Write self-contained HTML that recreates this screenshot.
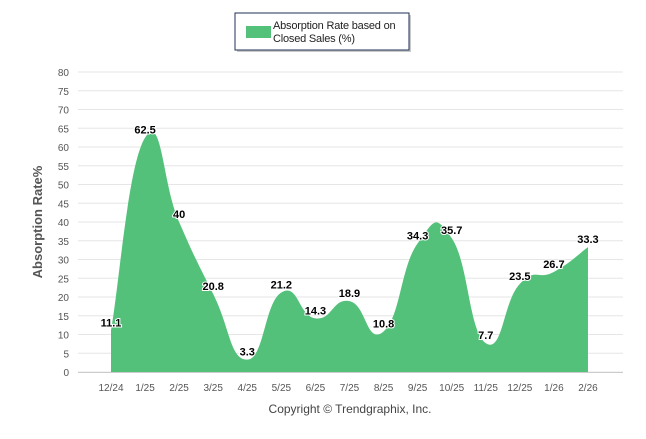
<!DOCTYPE html>
<html><head><meta charset="utf-8"><style>
body{margin:0;background:#fff;width:646px;height:434px;overflow:hidden;font-family:"Liberation Sans",sans-serif}
</style></head><body>
<svg width="646" height="434">
<g id="grid"></g><g id="area"></g><g id="labels"></g><g id="xt"></g>
<g>
<rect x="237" y="15" width="174" height="37" fill="#777" opacity="0.4"/>
<rect x="235" y="13" width="174" height="37" fill="#fff" stroke="#1f2f55" stroke-width="1"/>
<rect x="246" y="26" width="25" height="12" fill="#54c17b"/>
<text x="273" y="29" font-size="11" letter-spacing="-0.2" fill="#222">Absorption Rate based on</text>
<text x="273" y="42" font-size="11" letter-spacing="-0.2" fill="#222">Closed Sales (%)</text>
</g>
<text transform="translate(42,222) rotate(-90)" text-anchor="middle" font-size="13" font-weight="bold" fill="#555">Absorption Rate%</text>
<text x="350" y="413" text-anchor="middle" font-size="12" fill="#444">Copyright © Trendgraphix, Inc.</text>
</svg>
<script>
const categories=["12/24","1/25","2/25","3/25","4/25","5/25","6/25","7/25","8/25","9/25","10/25","11/25","12/25","1/26","2/26"];
const values=[11.1,62.5,40,20.8,3.3,21.2,14.3,18.9,10.8,34.3,35.7,7.7,23.5,26.7,33.3];
const labels=["11.1","62.5","40","20.8","3.3","21.2","14.3","18.9","10.8","34.3","35.7","7.7","23.5","26.7","33.3"];
const yTicks=[0,5,10,15,20,25,30,35,40,45,50,55,60,65,70,75,80];
const NS="http://www.w3.org/2000/svg";
const X=i=>111+i*34.07, Y=v=>372-v*3.75;
function mk(t,a,p){const e=document.createElementNS(NS,t);for(const k in a)e.setAttribute(k,a[k]);document.getElementById(p).appendChild(e);return e;}
yTicks.forEach(v=>{
 const l=mk('line',{x1:78,x2:623,y1:Y(v),y2:Y(v),stroke:'#e6e6e6'},'grid');
 
 
 const t=mk('text',{x:69,y:Y(v)+4,'text-anchor':'end','font-size':'10',fill:'#555'},'grid');t.textContent=v;
 
 
});
mk('line',{x1:78,x2:623,y1:Y(0)+.5,y2:Y(0)+.5,stroke:'#ccc'},'grid');
categories.forEach((c,i)=>{
 const t=mk('text',{x:X(i),y:391,'text-anchor':'middle','font-size':'10',fill:'#555'},'xt');t.textContent=c;
 
 
});
const pts=values.map((v,i)=>[X(i),Y(v)]);
let d=`M${pts[0][0]},${Y(0)} L${pts[0][0]},${pts[0][1]}`;
const s=1.5;
for(let i=0;i<pts.length-1;i++){
 const p0=pts[i],p1=pts[i+1];
 const pm=pts[i-1]||p0,pn=pts[i+2]||p1;
 const c1=[p0[0]+(p1[0]-pm[0])/(2*s+1),p0[1]+(p1[1]-pm[1])/(2*s+1)];
 const c2=[p1[0]-(pn[0]-p0[0])/(2*s+1),p1[1]-(pn[1]-p0[1])/(2*s+1)];
 if(i===0){c1[1]=p0[1]+(p1[1]-p0[1])/4;}
 d+=` C${c1[0]},${c1[1]} ${c2[0]},${c2[1]} ${p1[0]},${p1[1]}`;
}
d+=` L${pts[pts.length-1][0]},${Y(0)} Z`;
const a=mk('path',{d:d,fill:'#54c17b'},'area');


values.forEach((v,i)=>{
 const t=mk('text',{x:X(i),y:Y(v)-4,'text-anchor':'middle','font-size':'11','font-weight':'bold',fill:'#000',stroke:'#fff','stroke-width':'2','paint-order':'stroke'},'labels');
 t.textContent=labels[i];
 
 
});
</script>
</body></html>
